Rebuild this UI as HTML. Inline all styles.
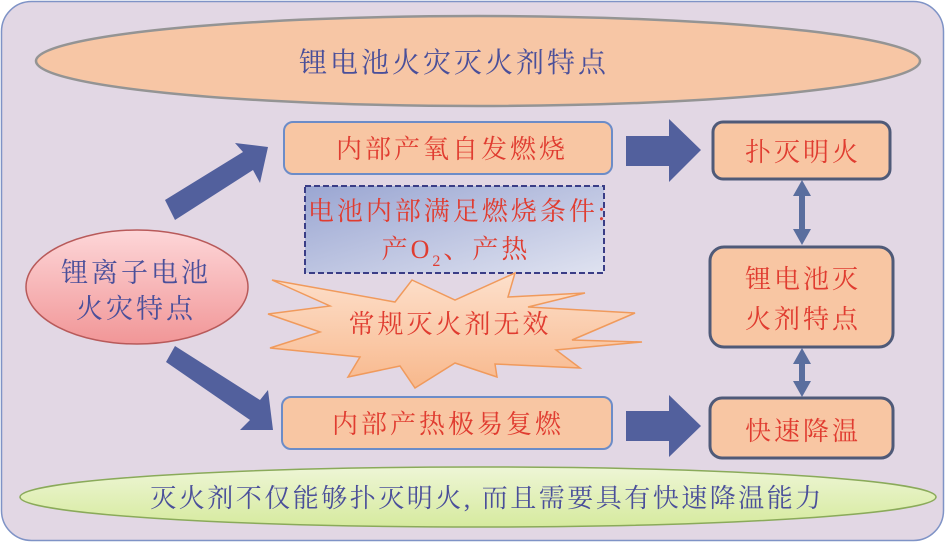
<!DOCTYPE html>
<html><head><meta charset="utf-8"><style>
html,body{margin:0;padding:0;background:#fff;}
svg{display:block;}
text{font-family:"Liberation Serif","Noto Serif CJK SC",serif;letter-spacing:3px;}
</style></head><body>
<svg width="946" height="543" viewBox="0 0 946 543" xmlns="http://www.w3.org/2000/svg">
<defs>
<linearGradient id="pink" x1="0" y1="0" x2="0" y2="1"><stop offset="0" stop-color="#fdd6d8"/><stop offset="1" stop-color="#f19697"/></linearGradient>
<linearGradient id="blue" x1="0" y1="0" x2="1" y2="1"><stop offset="0" stop-color="#9aa6d2"/><stop offset="1" stop-color="#dfe2f0"/></linearGradient>
<linearGradient id="green" x1="0" y1="0" x2="0" y2="1"><stop offset="0" stop-color="#eef6d6"/><stop offset="1" stop-color="#d6ea9e"/></linearGradient>
<linearGradient id="star" x1="0" y1="0" x2="0" y2="1"><stop offset="0" stop-color="#fde0cc"/><stop offset="1" stop-color="#f8b88c"/></linearGradient>
</defs>
<rect x="1.5" y="1.5" width="942" height="539" rx="30" fill="#e2d7e4" stroke="#7f93c6" stroke-width="1.5"/>
<ellipse cx="478" cy="61" rx="442" ry="45" fill="#f7c6a5" stroke="#949494" stroke-width="2.5"/>
<text x="454" y="72" font-size="28" fill="#4a4f9a" text-anchor="middle">锂电池火灾灭火剂特点</text>

<ellipse cx="137" cy="287" rx="111" ry="57" fill="url(#pink)" stroke="#b85a5a" stroke-width="1.5"/>
<text x="136" y="282" font-size="27" fill="#4a4f9a" text-anchor="middle">锂离子电池</text>
<text x="136" y="318" font-size="27" fill="#4a4f9a" text-anchor="middle">火灾特点</text>

<polygon points="165,200 243,152 235,143 268,147 260,183 253,170 175,220" fill="#52609d"/>
<polygon points="166,362 175,346 260,400 268,390 273,430 240,430 250,420" fill="#52609d"/>

<rect x="284" y="122" width="328" height="52" rx="9" fill="#f8c6a3" stroke="#6c8cc8" stroke-width="2"/>
<text x="452" y="158" font-size="26" fill="#e03c30" text-anchor="middle">内部产氧自发燃烧</text>

<rect x="305" y="186" width="299" height="87" fill="url(#blue)" stroke="#3a3d86" stroke-width="2" stroke-dasharray="6,3"/>
<text x="458" y="220" font-size="26" fill="#e03c30" text-anchor="middle">电池内部满足燃烧条件:</text>
<text x="456" y="258" font-size="26" fill="#e03c30" text-anchor="middle">产O<tspan font-size="16" dy="8">2</tspan><tspan dy="-8">、产热</tspan></text>

<polygon points="272,280 395,302 412,280 455,300 515,273 508,297 585,293 528,307 635,313 572,340 642,342 556,350 580,368 495,364 497,377 455,363 415,388 400,366 348,377 360,357 270,348 320,332 268,314 330,306" fill="url(#star)" stroke="#f09a5c" stroke-width="1.5"/>
<text x="450" y="333" font-size="26" fill="#e03c30" text-anchor="middle">常规灭火剂无效</text>

<rect x="282" y="397" width="330" height="52" rx="9" fill="#f8c6a3" stroke="#6c8cc8" stroke-width="2"/>
<text x="448" y="433" font-size="26" fill="#e03c30" text-anchor="middle">内部产热极易复燃</text>

<polygon points="626,136 669,136 669,119 701,150 669,182 669,166 626,166" fill="#52609d"/>
<polygon points="626,411 669,411 669,395 701,426 669,457 669,441 626,441" fill="#52609d"/>

<rect x="713" y="122" width="177" height="57" rx="10" fill="#f8c6a3" stroke="#4f5a78" stroke-width="3"/>
<text x="803" y="161" font-size="26" fill="#e03c30" text-anchor="middle">扑灭明火</text>
<rect x="710" y="247" width="183" height="100" rx="14" fill="#f8c6a3" stroke="#4f5a78" stroke-width="3"/>
<text x="803" y="288" font-size="26" fill="#e03c30" text-anchor="middle">锂电池灭</text>
<text x="803" y="328" font-size="26" fill="#e03c30" text-anchor="middle">火剂特点</text>
<rect x="710" y="398" width="183" height="60" rx="12" fill="#f8c6a3" stroke="#4f5a78" stroke-width="3"/>
<text x="803" y="440" font-size="26" fill="#e03c30" text-anchor="middle">快速降温</text>

<polygon points="802,180 811,196 805,196 805,229 811,229 802,245 793,229 799,229 799,196 793,196" fill="#5a6e9e"/>
<polygon points="802,348 811,364 805,364 805,381 811,381 802,397 793,381 799,381 799,364 793,364" fill="#5a6e9e"/>

<ellipse cx="478" cy="497" rx="458" ry="30" fill="url(#green)" stroke="#8aaa5a" stroke-width="1.5"/>
<text x="487" y="507" font-size="26" fill="#4a4f9a" text-anchor="middle" style="letter-spacing:2.5px">灭火剂不仅能够扑灭明火, 而且需要具有快速降温能力</text>
</svg>
</body></html>
